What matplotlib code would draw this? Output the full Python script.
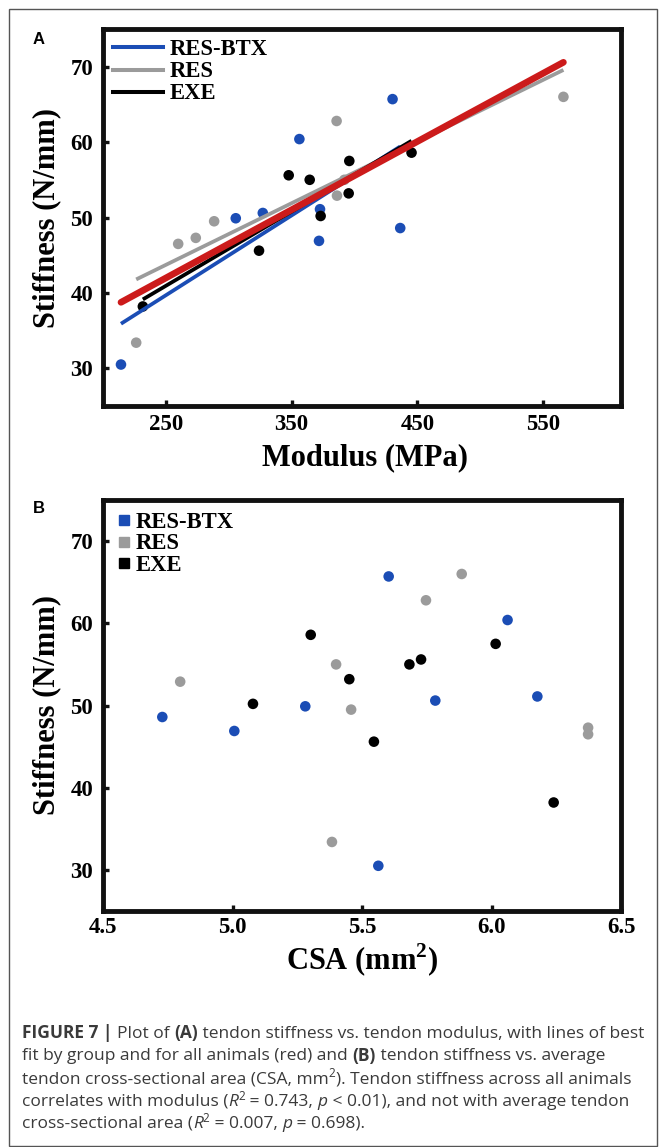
import numpy as np
import matplotlib
matplotlib.use("Agg")
import matplotlib.pyplot as plt
from matplotlib.lines import Line2D
from matplotlib.patches import Rectangle

# ---------------- data ----------------
groups = ["RES-BTX", "RES", "EXE"]
colors = {"RES-BTX": "#1b4db5", "RES": "#9b9b9b", "EXE": "#000000"}
fit_all_color = "#cc1b1b"

modulus_btx = [214.3, 305.6, 327.1, 356.2, 372.6, 371.8, 430.3, 436.4]
csa_btx = [5.563, 5.281, 5.783, 6.062, 6.177, 5.007, 5.603, 4.729]
stiff_btx = [30.5, 49.9, 50.6, 60.4, 51.1, 46.9, 65.7, 48.6]

modulus_res = [226.4, 259.8, 273.8, 288.4, 385.8, 386.1, 566.2, 392.0]
csa_res = [5.384, 6.373, 6.373, 5.458, 5.747, 4.798, 5.885, 5.400]
stiff_res = [33.4, 46.5, 47.3, 49.5, 62.8, 52.9, 66.0, 55.0]

modulus_exe = [231.7, 324.1, 347.7, 364.4, 373.1, 395.9, 395.4, 445.4]
csa_exe = [6.240, 5.546, 5.728, 5.683, 5.079, 6.016, 5.451, 5.302]
stiff_exe = [38.2, 45.6, 55.6, 55.0, 50.2, 57.5, 53.2, 58.6]

modulus_ticks = [250, 350, 450, 550]
csa_ticks = [4.5, 5.0, 5.5, 6.0, 6.5]
csa_ticklabels = ["4.5", "5.0", "5.5", "6.0", "6.5"]
stiff_ticks = [30, 40, 50, 60, 70]

data = {
    "RES-BTX": (modulus_btx, csa_btx, stiff_btx),
    "RES": (modulus_res, csa_res, stiff_res),
    "EXE": (modulus_exe, csa_exe, stiff_exe),
}

# ---------------- figure ----------------
W, H = 659, 1147
fig = plt.figure(figsize=(W / 100, H / 100), dpi=100)
fig.patch.set_facecolor("white")

SERIF = "Liberation Serif"
SANS = "Liberation Sans"
plt.rcParams["mathtext.fontset"] = "custom"
plt.rcParams["mathtext.rm"] = SERIF
plt.rcParams["mathtext.bf"] = SERIF + ":bold"

def fx(px):
    return px / W

def fy(py):
    return 1 - py / H

def axes_rect(l, t, r, b):
    return [fx(l), fy(b), (r - l) / W, (b - t) / H]

axA = fig.add_axes(axes_rect(103, 29, 621, 406))
axB = fig.add_axes(axes_rect(103, 500, 621, 911))

tick_fs = 16.5
label_fs = 22

def style_axes(ax, xpad):
    for s in ax.spines.values():
        s.set_linewidth(3.5)
        s.set_color("#111111")
    ax.tick_params(direction="in", length=4, width=2.4, top=False, right=False,
                   labelsize=tick_fs, color="#111111")
    ax.tick_params(axis="x", pad=xpad)
    ax.tick_params(axis="y", pad=7)
    for lbl in ax.get_xticklabels() + ax.get_yticklabels():
        lbl.set_fontfamily(SERIF)
        lbl.set_fontweight("bold")

# ---- Panel A ----
for g in groups:
    mod, csa, st = data[g]
    axA.scatter(mod, st, s=58, color=colors[g], edgecolors="none", zorder=2)
for g in groups:
    mod, csa, st = data[g]
    k, b0 = np.polyfit(mod, st, 1)
    xs = np.array([min(mod), max(mod)])
    axA.plot(xs, k * xs + b0, color=colors[g], lw=2.7, solid_capstyle="butt", zorder=3)
all_mod = np.concatenate([modulus_btx, modulus_res, modulus_exe])
all_st = np.concatenate([stiff_btx, stiff_res, stiff_exe])
k, b0 = np.polyfit(all_mod, all_st, 1)
xs = np.array([all_mod.min(), all_mod.max()])
axA.plot(xs, k * xs + b0, color=fit_all_color, lw=4.8, solid_capstyle="round", zorder=4)

axA.set_xlim(200, 612)
axA.set_ylim(25, 75)
axA.set_xticks(modulus_ticks)
axA.set_yticks(stiff_ticks)
style_axes(axA, 6)

# ---- Panel B ----
for g in groups:
    mod, csa, st = data[g]
    axB.scatter(csa, st, s=58, color=colors[g], edgecolors="none", zorder=2)
axB.set_xlim(4.5, 6.5)
axB.set_ylim(25, 75)
axB.set_xticks(csa_ticks)
axB.set_xticklabels(csa_ticklabels)
axB.set_yticks(stiff_ticks)
style_axes(axB, 4)

# ---- axis labels ----
lab_kw = dict(fontfamily=SERIF, fontweight="bold", fontsize=label_fs, ha="center", va="center")
fig.text(fx(47), fy(218), "Stiffness (N/mm)", rotation=90, **lab_kw)
fig.text(fx(365), fy(458), "Modulus (MPa)", **lab_kw)
fig.text(fx(47), fy(705), "Stiffness (N/mm)", rotation=90, **lab_kw)
fig.text(fx(362), fy(960), r"CSA (mm$^{\mathbf{2}}$)", **lab_kw)

# ---- panel letters ----
fig.text(fx(33), fy(44), "A", fontfamily=SANS, fontweight="bold", fontsize=12, ha="left", va="baseline")
fig.text(fx(33), fy(513), "B", fontfamily=SANS, fontweight="bold", fontsize=12, ha="left", va="baseline")

# ---- legends (manual, tight rows) ----
leg_fs = 16.3
rowsA = [47.3, 69.8, 91.7]
for g, ry in zip(groups, rowsA):
    fig.add_artist(Line2D([fx(113), fx(163)], [fy(ry), fy(ry)], color=colors[g], lw=2.9))
    fig.text(fx(170), fy(ry + 7.5), g, fontfamily=SERIF, fontweight="bold",
             fontsize=leg_fs, ha="left", va="baseline")
rowsB = [520, 541.7, 563.3]
for g, ry in zip(groups, rowsB):
    fig.add_artist(Rectangle((fx(119), fy(ry + 5)), 10 / W, 10 / H, color=colors[g],
                             transform=fig.transFigure))
    fig.text(fx(136), fy(ry + 7.5), g, fontfamily=SERIF, fontweight="bold",
             fontsize=leg_fs, ha="left", va="baseline")

# ---- outer border ----
fig.add_artist(Rectangle((fx(8.5), fy(1146)), (656.5 - 8.5) / W, (1146 - 8.5) / H,
                         fill=False, edgecolor="#555555", lw=1.0, transform=fig.transFigure))

# ---- caption ----
renderer = fig.canvas.get_renderer()
CAP = "Open Sans"
cap_color = "#3a3a3a"

def run_width(text, size, weight="normal", style="normal"):
    t1 = fig.text(0, 0, text + "|", fontfamily=CAP, fontsize=size, fontweight=weight, fontstyle=style)
    t2 = fig.text(0, 0, "|", fontfamily=CAP, fontsize=size, fontweight=weight, fontstyle=style)
    w = t1.get_window_extent(renderer).width - t2.get_window_extent(renderer).width
    t1.remove(); t2.remove()
    return w

B_, N_, I_, S_ = "b", "n", "i", "s"
cap_lines = [
    [("FIGURE 7 | ", B_), ("Plot of ", N_), ("(A)", B_), (" tendon stiffness vs. tendon modulus, with lines of best", N_)],
    [("fit by group and for all animals (red) and ", N_), ("(B)", B_), (" tendon stiffness vs. average", N_)],
    [("tendon cross-sectional area (CSA, mm", N_), ("2", S_), ("). Tendon stiffness across all animals", N_)],
    [("correlates with modulus (", N_), ("R", I_), ("2", S_), (" = 0.743, ", N_), ("p", I_), (" < 0.01), and not with average tendon", N_)],
    [("cross-sectional area (", N_), ("R", I_), ("2", S_), (" = 0.007, ", N_), ("p", I_), (" = 0.698).", N_)],
]

def props(kind, size):
    if kind == B_:
        return dict(fontweight="bold", fontstyle="normal", fontsize=size), 0
    if kind == I_:
        return dict(fontweight="normal", fontstyle="italic", fontsize=size), 0
    if kind == S_:
        return dict(fontweight="normal", fontstyle="normal", fontsize=size * 0.68), size * 0.33
    return dict(fontweight="normal", fontstyle="normal", fontsize=size), 0

def line_width(runs, size):
    tot = 0
    for txt, kind in runs:
        p, _ = props(kind, size)
        tot += run_width(txt, p["fontsize"], p["fontweight"], p["fontstyle"])
    return tot

base = 10.0
w0 = line_width(cap_lines[0], base)
cap_fs = base * 622.0 / w0

baselines = [1038, 1060.5, 1083, 1105.5, 1128]
for runs, by in zip(cap_lines, baselines):
    x = 22.0
    for txt, kind in runs:
        p, rise = props(kind, cap_fs)
        fig.text(fx(x), fy(by - rise * 100 / 72), txt, fontfamily=CAP, color=cap_color,
                 ha="left", va="baseline", **p)
        x += run_width(txt, p["fontsize"], p["fontweight"], p["fontstyle"])

fig.savefig("out.png", dpi=100, facecolor="white")
